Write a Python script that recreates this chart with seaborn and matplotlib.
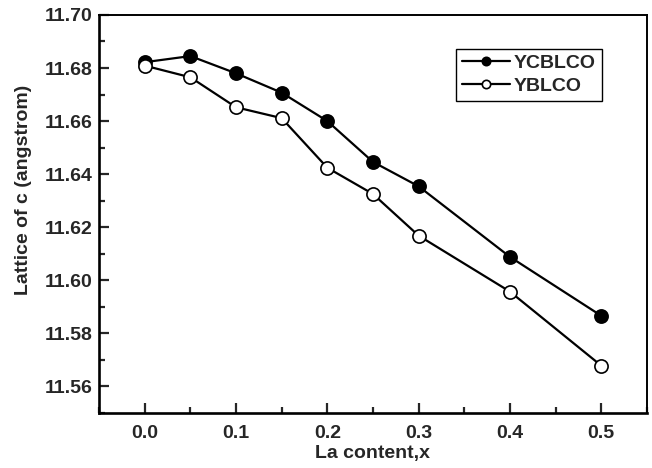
import numpy as np
import pandas as pd
import matplotlib
matplotlib.use("Agg")
import matplotlib.pyplot as plt
from matplotlib.ticker import MultipleLocator
import seaborn as sns

la_content = [0.0, 0.05, 0.1, 0.15, 0.2, 0.25, 0.3, 0.4, 0.5]
ycblco = [11.6822, 11.6845, 11.6780, 11.6707, 11.6600, 11.6446, 11.6354, 11.6088, 11.5866]
yblco = [11.6809, 11.6765, 11.6652, 11.6611, 11.6424, 11.6325, 11.6168, 11.5957, 11.5678]

sns.set_style("ticks")
plt.rcParams['font.family'] = ['Liberation Sans', 'DejaVu Sans']
plt.rcParams['font.weight'] = 'bold'
plt.rcParams['axes.labelweight'] = 'bold'

fig, ax = plt.subplots(figsize=(6.52, 4.68), dpi=100)
fig.subplots_adjust(left=0.152, right=0.992, top=0.968, bottom=0.118)

df1 = pd.DataFrame({'x': la_content, 'y': ycblco})
df2 = pd.DataFrame({'x': la_content, 'y': yblco})
sns.lineplot(data=df1, x='x', y='y', ax=ax, color='black', lw=1.6, marker='o',
             markersize=9.5, markerfacecolor='black', markeredgecolor='black',
             markeredgewidth=1.2, label='YCBLCO')
sns.lineplot(data=df2, x='x', y='y', ax=ax, color='black', lw=1.6, marker='o',
             markersize=9.5, markerfacecolor='white', markeredgecolor='black',
             markeredgewidth=1.2, label='YBLCO')

ax.set_xlim(-0.05, 0.55)
ax.set_ylim(11.55, 11.70)
ax.xaxis.set_major_locator(MultipleLocator(0.1))
ax.xaxis.set_minor_locator(MultipleLocator(0.05))
ax.yaxis.set_major_locator(MultipleLocator(0.02))
ax.yaxis.set_minor_locator(MultipleLocator(0.01))
ax.xaxis.set_major_formatter(matplotlib.ticker.FormatStrFormatter('%.1f'))
ax.yaxis.set_major_formatter(matplotlib.ticker.FormatStrFormatter('%.2f'))
ax.tick_params(which='both', direction='in', top=False, right=False, width=1.6, labelsize=14)
ax.tick_params(which='major', length=7)
ax.tick_params(which='minor', length=4)
ax.tick_params(axis='x', pad=9)
ax.tick_params(axis='y', pad=5)
for s in ax.spines.values():
    s.set_linewidth(1.4)
    s.set_color('black')
ax.spines['left'].set_linewidth(1.9)
ax.spines['bottom'].set_linewidth(1.9)

ax.set_xlabel('La content,x', fontsize=14, labelpad=2)
ax.set_ylabel('Lattice of c (angstrom)', fontsize=14)
ax.yaxis.set_label_coords(-0.122, 0.56)

leg = ax.legend(loc='upper right', bbox_to_anchor=(0.918, 0.915), fontsize=14,
                frameon=True, fancybox=False, edgecolor='black', framealpha=1,
                handlelength=2.5, handletextpad=0.2, borderpad=0.3, labelspacing=0.25,
                borderaxespad=0)
leg.get_frame().set_linewidth(1.0)
for h in leg.legend_handles:
    h.set_markersize(6)

fig.savefig('out.png', dpi=100)
